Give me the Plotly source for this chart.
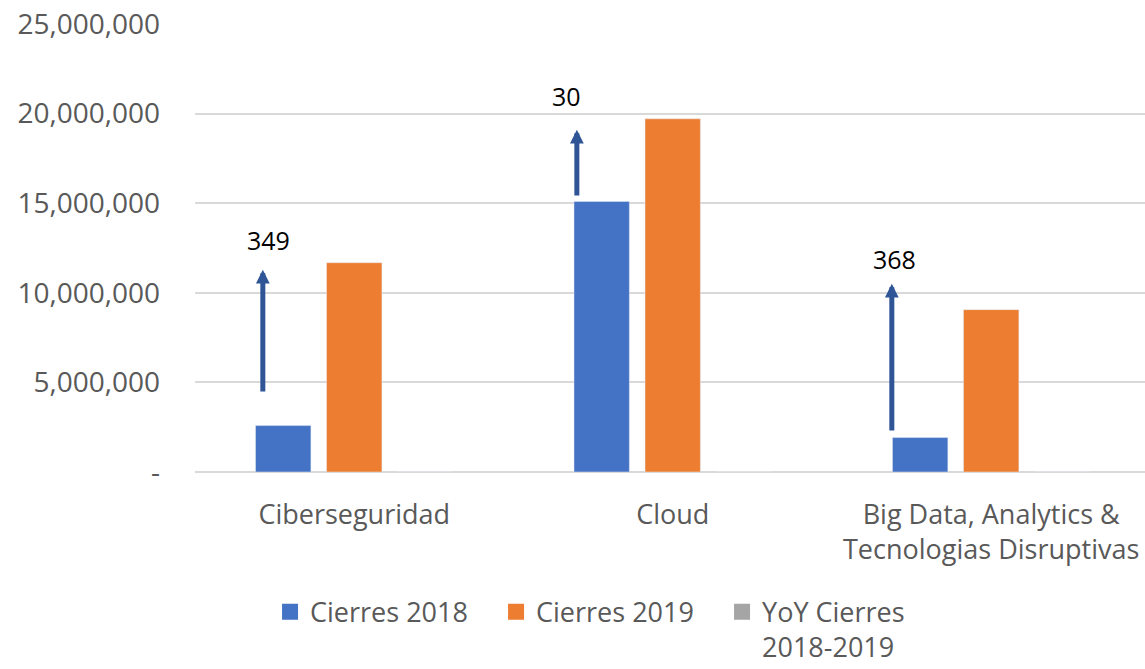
import plotly.graph_objects as go

categories = ["Ciberseguridad", "Cloud", "Big Data, Analytics &<br>Tecnologias Disruptivas"]
cierres_2018 = [2590000, 15100000, 1920000]
cierres_2019 = [11680000, 19710000, 9060000]
yoy_2018_2019 = [349, 30, 368]
series_names = ["Cierres 2018", "Cierres 2019", "YoY Cierres<br>2018-2019"]
series_colors = ["#4472C4", "#ED7D31", "#A5A5A5"]
y_tickvals = [0, 5000000, 10000000, 15000000, 20000000, 25000000]
y_ticktext = ["-", "5,000,000", "10,000,000", "15,000,000", "20,000,000", "25,000,000"]

# decoration layout (arrow start/end y, label positions) - styling only
arrow_dx = [-0.287, -0.301, -0.312]
arrow_y0 = [4.41e6, 15.34e6, 2.23e6]
arrow_y1 = [11.29e6, 19.10e6, 10.51e6]
label_dx = [-0.268, -0.333, -0.303]
label_y = [12.92e6, 21.0e6, 11.9e6]

FONT = "Open Sans"
fig = go.Figure()
for name, vals, col in zip(series_names, [cierres_2018, cierres_2019, yoy_2018_2019], series_colors):
    fig.add_trace(go.Bar(name=name, x=categories, y=vals, marker_color=col,
                         showlegend=False, legendgroup=name))
# legend entries with larger square swatches
for name, col in zip(series_names, series_colors):
    fig.add_trace(go.Scatter(name=name, x=[None], y=[None], mode="markers",
                             marker=dict(symbol="square", size=18, color=col),
                             legendgroup=name, showlegend=True))

annotations = []
for i, v in enumerate(yoy_2018_2019):
    annotations.append(dict(
        x=i + arrow_dx[i], y=arrow_y1[i], ax=i + arrow_dx[i], ay=arrow_y0[i],
        xref="x", yref="y", axref="x", ayref="y", text="", showarrow=True,
        arrowhead=2, arrowsize=0.55, arrowwidth=5, arrowcolor="#2F5597"))
    annotations.append(dict(
        x=i + label_dx[i], y=label_y[i], xref="x", yref="y", text=str(v),
        showarrow=False, font=dict(family=FONT, size=25, color="#000000")))

fig.update_layout(
    width=1145, height=669,
    margin=dict(l=195, r=0, t=24, b=197, autoexpand=False),
    paper_bgcolor="white", plot_bgcolor="white",
    barmode="group", bargap=0.331, bargroupgap=0.22,
    font=dict(family=FONT, size=27, color="#595959"),
    xaxis=dict(range=[-0.5, 2.483], showgrid=False, showline=False, zeroline=False,
               automargin=False,
               tickfont=dict(size=27, color="#595959"), ticklabelstandoff=24),
    yaxis=dict(range=[0, 25000000], tickvals=y_tickvals, ticktext=y_ticktext,
               showgrid=True, gridcolor="#D9D9D9", gridwidth=1.5,
               zeroline=True, zerolinecolor="#D9D9D9", zerolinewidth=1.5,
               automargin=False,
               showline=False, tickfont=dict(size=28, color="#595959"),
               ticklabelstandoff=34),
    legend=dict(orientation="h", x=0.079, xanchor="left", y=-0.258, yanchor="top",
                valign="top", font=dict(size=27, color="#595959"), itemclick=False,
                itemsizing="trace", tracegroupgap=0,
                entrywidth=181, entrywidthmode="pixels"),
    annotations=annotations,
    showlegend=True,
)

fig.write_html("out.html", config={"displayModeBar": False},
               post_script="document.body.style.margin='0';")
